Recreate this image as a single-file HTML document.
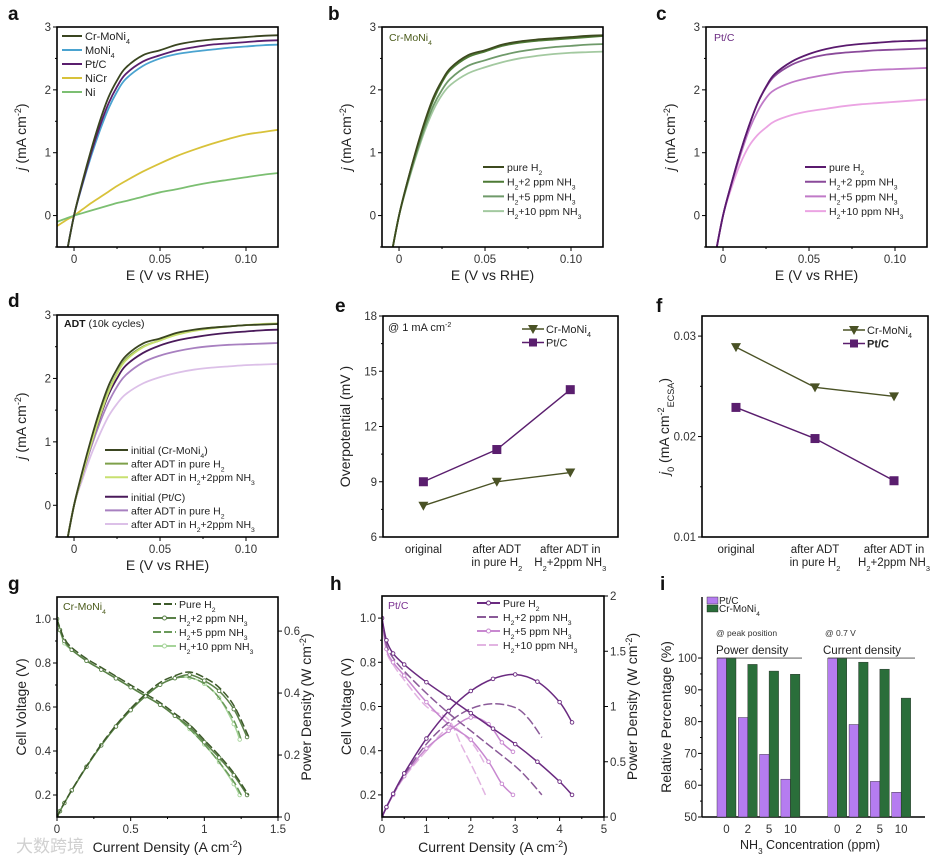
<!DOCTYPE html>
<html><head><meta charset="utf-8">
<style>
html,body{margin:0;padding:0;background:#fff;}
svg{display:block;font-family:"Liberation Sans","Noto Sans CJK SC",sans-serif;}
</style></head>
<body>
<svg id="chart" width="933" height="862" viewBox="0 0 933 862" xmlns="http://www.w3.org/2000/svg"></svg>
<script>
// ---------- data ----------
const E = [-0.01,-0.005,0,0.005,0.01,0.015,0.02,0.025,0.03,0.04,0.05,0.06,0.07,0.08,0.09,0.10,0.11,0.12];
// panel a
const aCrMoNi4 = [-1.4,-0.7,0,0.55,1.05,1.5,1.88,2.15,2.35,2.55,2.63,2.72,2.77,2.8,2.82,2.84,2.86,2.87];
const aMoNi4   = [-1.4,-0.7,0,0.5,0.95,1.35,1.7,1.97,2.17,2.38,2.5,2.57,2.61,2.64,2.67,2.69,2.71,2.72];
const aPtC     = [-1.4,-0.7,0,0.52,1.0,1.42,1.78,2.05,2.25,2.45,2.55,2.63,2.68,2.72,2.74,2.76,2.78,2.79];
const aNiCr    = [-0.17,-0.08,0,0.1,0.2,0.29,0.38,0.47,0.55,0.7,0.83,0.95,1.05,1.14,1.22,1.29,1.33,1.37];
const aNi      = [-0.1,-0.05,0,0.04,0.08,0.12,0.16,0.2,0.23,0.3,0.37,0.42,0.48,0.53,0.57,0.61,0.65,0.68];
// panel b
const bPure  = [-1.4,-0.7,0,0.55,1.05,1.5,1.88,2.15,2.35,2.55,2.63,2.72,2.77,2.8,2.82,2.84,2.86,2.87];
const b2ppm  = [-1.4,-0.7,0,0.55,1.03,1.47,1.84,2.12,2.32,2.52,2.61,2.7,2.75,2.78,2.8,2.82,2.84,2.86];
const b5ppm  = [-1.4,-0.7,0,0.52,0.98,1.4,1.75,2.0,2.18,2.38,2.47,2.55,2.61,2.65,2.68,2.7,2.72,2.73];
const b10ppm = [-1.4,-0.7,0,0.5,0.95,1.35,1.68,1.92,2.08,2.26,2.36,2.44,2.5,2.54,2.57,2.59,2.6,2.61];
// panel c
const cPure  = [-1.4,-0.7,0,0.52,1.0,1.42,1.78,2.05,2.25,2.45,2.57,2.65,2.7,2.73,2.75,2.77,2.78,2.79];
const c2ppm  = [-1.4,-0.7,0,0.52,1.0,1.42,1.78,2.04,2.22,2.4,2.5,2.56,2.59,2.61,2.63,2.64,2.65,2.66];
const c5ppm  = [-1.4,-0.7,0,0.5,0.95,1.35,1.65,1.87,2.0,2.12,2.19,2.24,2.28,2.3,2.32,2.33,2.34,2.35];
const c10ppm = [-1.4,-0.7,0,0.45,0.82,1.1,1.28,1.4,1.5,1.6,1.66,1.7,1.74,1.77,1.79,1.81,1.83,1.85];
// panel d
const dCrInit = [-1.4,-0.7,0,0.55,1.05,1.5,1.88,2.15,2.35,2.55,2.63,2.72,2.77,2.8,2.82,2.84,2.85,2.86];
const dCrPure = [-1.4,-0.7,0,0.5,0.98,1.42,1.8,2.08,2.3,2.5,2.6,2.7,2.76,2.8,2.82,2.84,2.85,2.86];
const dCrNH3  = [-1.4,-0.7,0,0.5,0.97,1.4,1.78,2.07,2.28,2.49,2.6,2.69,2.75,2.79,2.82,2.84,2.86,2.87];
const dPtInit = [-1.4,-0.7,0,0.5,0.97,1.38,1.74,2.0,2.2,2.4,2.52,2.6,2.65,2.69,2.72,2.74,2.76,2.77];
const dPtPure = [-1.4,-0.7,0,0.48,0.92,1.3,1.62,1.87,2.05,2.25,2.36,2.43,2.48,2.51,2.53,2.54,2.55,2.56];
const dPtNH3  = [-1.4,-0.7,0,0.42,0.8,1.12,1.4,1.6,1.75,1.92,2.02,2.09,2.14,2.17,2.19,2.21,2.22,2.23];
// panels e, f
const adtCategories = ["original","after ADT|in pure H_{2}","after ADT in|H_{2}+2ppm NH_{3}"];
const eCr = [7.7, 9.0, 9.5];
const ePt = [9.0, 10.75, 14.0];
const fCr = [0.0289, 0.0249, 0.0240];
const fPt = [0.0229, 0.0198, 0.0156];
// panel g
const gIpure = [0,0.02,0.05,0.1,0.2,0.3,0.4,0.5,0.6,0.7,0.8,0.9,1.0,1.1,1.2,1.3];
const gVpure = [1.0,0.96,0.91,0.87,0.82,0.78,0.74,0.70,0.66,0.62,0.57,0.52,0.45,0.38,0.30,0.2];
const gPpure = [0,0.019,0.046,0.087,0.164,0.234,0.296,0.35,0.396,0.434,0.456,0.468,0.45,0.418,0.36,0.26];
const gI2 = [0,0.02,0.05,0.1,0.2,0.3,0.4,0.5,0.6,0.7,0.8,0.9,1.0,1.1,1.2,1.29];
const gV2 = [1.0,0.95,0.9,0.86,0.81,0.77,0.73,0.69,0.65,0.61,0.56,0.51,0.44,0.37,0.29,0.2];
const gP2 = [0,0.019,0.045,0.086,0.162,0.231,0.292,0.345,0.39,0.427,0.448,0.459,0.44,0.407,0.348,0.258];
const gI5 = [0,0.02,0.05,0.1,0.2,0.3,0.4,0.5,0.6,0.7,0.8,0.9,1.0,1.1,1.2,1.25];
const gV5 = [1.0,0.95,0.9,0.86,0.81,0.77,0.73,0.69,0.65,0.61,0.56,0.5,0.43,0.35,0.26,0.2];
const gP5 = [0,0.019,0.045,0.086,0.162,0.231,0.292,0.345,0.39,0.427,0.448,0.45,0.43,0.385,0.312,0.25];
const gI10 = [0,0.02,0.05,0.1,0.2,0.3,0.4,0.5,0.6,0.7,0.8,0.9,1.0,1.1,1.2,1.24];
const gV10 = [1.0,0.95,0.89,0.86,0.81,0.77,0.73,0.69,0.65,0.61,0.56,0.5,0.43,0.35,0.25,0.2];
const gP10 = [0,0.019,0.045,0.086,0.162,0.231,0.292,0.345,0.39,0.427,0.448,0.45,0.43,0.385,0.3,0.25];
// panel h
const hIpure = [0,0.1,0.25,0.5,1,1.5,2,2.5,3,3.5,4,4.28];
const hVpure = [1.0,0.9,0.84,0.79,0.71,0.64,0.57,0.5,0.43,0.35,0.26,0.2];
const hPpure = [0,0.09,0.21,0.395,0.71,0.96,1.14,1.25,1.29,1.225,1.04,0.856];
const hI2 = [0,0.1,0.25,0.5,1,1.5,2,2.5,3,3.3,3.6];
const hV2 = [1.0,0.88,0.82,0.76,0.66,0.57,0.49,0.41,0.33,0.27,0.2];
const hP2 = [0,0.088,0.205,0.38,0.66,0.855,0.98,1.025,0.99,0.89,0.72];
const hI5 = [0,0.1,0.25,0.5,1,1.5,2,2.4,2.7,2.95];
const hV5 = [1.0,0.86,0.8,0.74,0.62,0.52,0.45,0.35,0.25,0.2];
const hP5 = [0,0.086,0.2,0.37,0.62,0.78,0.9,0.84,0.675,0.59];
const hI10 = [0,0.1,0.25,0.5,1,1.5,1.8,2.1,2.33];
const hV10 = [1.0,0.85,0.79,0.72,0.6,0.54,0.42,0.3,0.2];
const hP10 = [0,0.085,0.2,0.36,0.6,0.81,0.76,0.63,0.47];
// panel i
const iConc = ["0","2","5","10"];
const iPowerPt = [100,81.3,69.7,61.9];
const iPowerCr = [100,98.0,95.9,94.9];
const iCurrentPt = [100,79.1,61.2,57.8];
const iCurrentCr = [100,98.7,96.5,87.4];

// ---------- helpers ----------
const NS='http://www.w3.org/2000/svg';
const svg=document.getElementById('chart');
function mk(tag,parent,name){
  const e=document.createElementNS(NS,tag);
  
  
  parent.appendChild(e);return e;
}
function set(e,o){for(const k in o)e.setAttribute(k,o[k]);return e;}
function addSpan(t,str,kind){
  const ts=document.createElementNS(NS,'tspan');ts.textContent=str;
  if(kind==='_'||kind==='^'){ts.setAttribute('font-size','0.65em');ts.setAttribute('baseline-shift',kind==='_'?'sub':'super');}
  if(kind==='*'){ts.setAttribute('font-style','italic');}
  t.appendChild(ts);
}
function rich(t,s){
  const re=/([_^*])\{([^}]*)\}/g;let last=0,m;
  while((m=re.exec(s))){if(m.index>last)addSpan(t,s.slice(last,m.index),null);addSpan(t,m[2],m[1]);last=re.lastIndex;}
  if(last<s.length)addSpan(t,s.slice(last),null);
}
function txt(parent,name,x,y,s,o){
  o=o||{};
  const t=mk('text',parent,name);
  set(t,{x:x,y:y,'font-size':o.size||11,fill:o.fill||'#1a1a1a','text-anchor':o.anchor||'start'});
  if(o.weight)t.setAttribute('font-weight',o.weight);
  if(o.rot)t.setAttribute('transform','rotate(-90 '+x+' '+y+')');
  rich(t,s);return t;
}
function smooth(pts){
  if(pts.length<2)return '';
  let d='M'+pts[0][0].toFixed(2)+','+pts[0][1].toFixed(2);
  for(let i=0;i<pts.length-1;i++){
    const p0=pts[Math.max(0,i-1)],p1=pts[i],p2=pts[i+1],p3=pts[Math.min(pts.length-1,i+2)];
    const c1x=p1[0]+(p2[0]-p0[0])/6,c1y=p1[1]+(p2[1]-p0[1])/6;
    const c2x=p2[0]-(p3[0]-p1[0])/6,c2y=p2[1]-(p3[1]-p1[1])/6;
    d+=' C'+c1x.toFixed(2)+','+c1y.toFixed(2)+' '+c2x.toFixed(2)+','+c2y.toFixed(2)+' '+p2[0].toFixed(2)+','+p2[1].toFixed(2);
  }
  return d;
}
let clipN=0;
function panel(name,ax){
  const g=mk('g',svg,name);
  const sx=v=>ax.L+(v-ax.xd[0])/(ax.xd[1]-ax.xd[0])*ax.W;
  const sy=v=>ax.T+ax.H-(v-ax.yd[0])/(ax.yd[1]-ax.yd[0])*ax.H;
  const cid='clip'+(clipN++);
  const cp=mk('clipPath',g,name+'-clip');cp.setAttribute('id',cid);
  const cr=mk('rect',cp,name+'-clip-rect');set(cr,{x:ax.L,y:ax.T,width:ax.W,height:ax.H});
  const plot=mk('g',g,name+'-plot-area');plot.setAttribute('clip-path','url(#'+cid+')');
  const B=ax.T+ax.H;
  (ax.xt||[]).forEach((v,i)=>{
    const tk=mk('line',g,'x-tick');set(tk,{x1:sx(v),x2:sx(v),y1:B,y2:B+4,stroke:'#000','stroke-width':1});
    txt(g,'x-tick-label',sx(v),B+16,ax.xl[i],{anchor:'middle',size:11.5,fill:'#333'});
  });
  (ax.xm||[]).forEach(v=>{const tk=mk('line',g,'x-minor-tick');set(tk,{x1:sx(v),x2:sx(v),y1:B,y2:B+2,stroke:'#000','stroke-width':1});});
  (ax.yt||[]).forEach((v,i)=>{
    const tk=mk('line',g,'y-tick');set(tk,{x1:ax.L-4,x2:ax.L,y1:sy(v),y2:sy(v),stroke:'#000','stroke-width':1});
    txt(g,'y-tick-label',ax.L-6,sy(v)+4,ax.yl[i],{anchor:'end',size:11.5,fill:'#333'});
  });
  (ax.ym||[]).forEach(v=>{const tk=mk('line',g,'y-minor-tick');set(tk,{x1:ax.L-2,x2:ax.L,y1:sy(v),y2:sy(v),stroke:'#000','stroke-width':1});});
  if(ax.box!==false){
    const r=mk('rect',g,name+'-frame');set(r,{x:ax.L,y:ax.T,width:ax.W,height:ax.H,fill:'none',stroke:'#000','stroke-width':1.6});
  }
  return {g,plot,sx,sy};
}
function curve(P,name,xs,ys,color,o){
  o=o||{};
  const pts=xs.map((x,i)=>[P.sx(x),(o.sy||P.sy)(ys[i])]);
  const p=mk('path',P.plot,name);
  set(p,{d:smooth(pts),fill:'none',stroke:color,'stroke-width':o.w||1.8});
  if(o.dash)p.setAttribute('stroke-dasharray',o.dash);
  if(o.marker){pts.forEach(q=>{const c=mk('circle',P.plot,name+'-marker');set(c,{cx:q[0],cy:q[1],r:1.8,fill:'#fff',stroke:color,'stroke-width':0.9});});}
}
function legLine(g,name,x1,x2,y,color,label,o){
  o=o||{};
  const l=mk('line',g,name+'-swatch');set(l,{x1:x1,x2:x2,y1:y,y2:y,stroke:color,'stroke-width':2});
  if(o.dash)l.setAttribute('stroke-dasharray',o.dash);
  if(o.marker){const c=mk('circle',g,name+'-swatch-marker');set(c,{cx:(x1+x2)/2,cy:y,r:2,fill:'#fff',stroke:color});}
  txt(g,name,x2+3,y+4,label,{size:o.size||10.5,fill:'#222'});
}
function letter(s,x,y){txt(svg,'panel-label-'+s,x,y,s,{size:19,weight:'bold',fill:'#111'});}

// ---------- LSV panels a-d ----------
const lsvAx=(L,T,W,H)=>({L:L,T:T,W:W,H:H,xd:[-0.0099,0.1186],yd:[-0.5,3],xt:[0,0.05,0.10],xl:['0','0.05','0.10'],xm:[0.025,0.075,0.1],yt:[0,1,2,3],yl:['0','1','2','3'],ym:[-0.5,0.5,1.5,2.5]});
function lsvTitles(P,ax){
  txt(P.g,'y-axis-title',ax.L-31,ax.T+ax.H/2,'*{j} (mA cm^{-2})',{size:14,anchor:'middle',rot:true,fill:'#222'});
  txt(P.g,'x-axis-title',ax.L+ax.W/2,ax.T+ax.H+33,'E (V vs RHE)',{size:14,anchor:'middle',fill:'#222'});
}
// a
let ax=lsvAx(57,27,221,220);let P=panel('panel-a',ax);lsvTitles(P,ax);
curve(P,'line-nicr',E,aNiCr,'#d8c23a');
curve(P,'line-ni',E,aNi,'#7cbf72');
curve(P,'line-moni4',E,aMoNi4,'#4aa3d0');
curve(P,'line-ptc',E,aPtC,'#5a1e6e');
curve(P,'line-cr-moni4',E,aCrMoNi4,'#3a4520');
[['Cr-MoNi_{4}','#3a4520'],['MoNi_{4}','#4aa3d0'],['Pt/C','#5a1e6e'],['NiCr','#d8c23a'],['Ni','#7cbf72']].forEach((r,i)=>legLine(P.g,'legend-entry',62,82,36+i*14,r[1],r[0],{size:11}));
letter('a',8,20);
// b
ax=lsvAx(382,27,221,220);P=panel('panel-b',ax);lsvTitles(P,ax);
const bCols=['#3d4a1f','#4d7a35','#6f9a6a','#a3c9a0'];
curve(P,'line-10ppm',E,b10ppm,bCols[3]);curve(P,'line-5ppm',E,b5ppm,bCols[2]);curve(P,'line-2ppm',E,b2ppm,bCols[1]);curve(P,'line-pure',E,bPure,bCols[0]);
txt(P.g,'sample-label',389,41,'Cr-MoNi_{4}',{size:10.5,fill:'#4a5a1a'});
['pure H_{2}','H_{2}+2 ppm NH_{3}','H_{2}+5 ppm NH_{3}','H_{2}+10 ppm NH_{3}'].forEach((s,i)=>legLine(P.g,'legend-entry',483,504,167+i*14.7,bCols[i],s));
letter('b',328,20);
// c
ax=lsvAx(706,27,221,220);P=panel('panel-c',ax);lsvTitles(P,ax);
const cCols=['#5a1a6e','#8a4a9a','#c07ac8','#eba4e3'];
curve(P,'line-10ppm',E,c10ppm,cCols[3]);curve(P,'line-5ppm',E,c5ppm,cCols[2]);curve(P,'line-2ppm',E,c2ppm,cCols[1]);curve(P,'line-pure',E,cPure,cCols[0]);
txt(P.g,'sample-label',714,41,'Pt/C',{size:10.5,fill:'#6a2a80'});
['pure H_{2}','H_{2}+2 ppm NH_{3}','H_{2}+5 ppm NH_{3}','H_{2}+10 ppm NH_{3}'].forEach((s,i)=>legLine(P.g,'legend-entry',805,826,167+i*14.7,cCols[i],s));
letter('c',656,20);
// d
ax=lsvAx(57,315,221,222);P=panel('panel-d',ax);lsvTitles(P,ax);
const dCols=['#3a4520','#7ea04a','#c8e070','#4a1a5a','#a880c0','#dcc0e8'];
curve(P,'line-pt-nh3',E,dPtNH3,dCols[5]);curve(P,'line-pt-pure',E,dPtPure,dCols[4]);curve(P,'line-pt-initial',E,dPtInit,dCols[3]);
curve(P,'line-cr-pure',E,dCrPure,dCols[1]);curve(P,'line-cr-nh3',E,dCrNH3,dCols[2]);curve(P,'line-cr-initial',E,dCrInit,dCols[0]);
const adtT=txt(P.g,'adt-label',64,327,'',{size:10.5});adtT.innerHTML='<tspan font-weight="bold">ADT</tspan> (10k cycles)';
['initial (Cr-MoNi_{4})','after ADT in pure H_{2}','after ADT in H_{2}+2ppm NH_{3}','initial (Pt/C)','after ADT in pure H_{2}','after ADT in H_{2}+2ppm NH_{3}'].forEach((s,i)=>legLine(P.g,'legend-entry',105,128,450+i*13.6+(i>2?6:0),dCols[i],s,{size:10.5}));
letter('d',8,307);

// ---------- e, f ----------
function catPanel(name,ax,cr,pt,ytitle,legY,legX){
  const P=panel(name,ax);
  adtCategories.forEach((c,i)=>{
    const parts=c.split('|');
    parts.forEach((s,j)=>txt(P.g,'x-category-label',P.sx(i),ax.T+ax.H+16+j*13,s,{anchor:'middle',size:11.5,fill:'#222'}));
  });
  txt(P.g,'y-axis-title',ax.L-33,ax.T+ax.H/2,ytitle,{size:14,anchor:'middle',rot:true,fill:'#222'});
  [[pt,'#5a1e6e','pt','square'],[cr,'#4a5225','cr','tri']].forEach(s=>{
    const pts=s[0].map((v,i)=>[P.sx(i),P.sy(v)]);
    const pl=mk('polyline',P.plot,'line-'+s[2]);set(pl,{points:pts.map(q=>q.join(',')).join(' '),fill:'none',stroke:s[1],'stroke-width':1.4});
    pts.forEach(q=>{
      if(s[3]==='square'){const r=mk('rect',P.plot,'marker-'+s[2]);set(r,{x:q[0]-4.5,y:q[1]-4.5,width:9,height:9,fill:s[1]});}
      else{const t=mk('polygon',P.plot,'marker-'+s[2]);set(t,{points:(q[0]-5)+','+(q[1]-4)+' '+(q[0]+5)+','+(q[1]-4)+' '+q[0]+','+(q[1]+5),fill:s[1]});}
    });
  });
  const lx=legX;
  [['Cr-MoNi_{4}','#4a5225','tri'],['Pt/C','#5a1e6e','sq']].forEach((r,i)=>{
    const y=legY+i*13.5;
    const l=mk('line',P.g,'legend-swatch');set(l,{x1:lx,x2:lx+22,y1:y,y2:y,stroke:r[1],'stroke-width':1.4});
    if(r[2]==='sq'){const q=mk('rect',P.g,'legend-marker');set(q,{x:lx+7,y:y-4,width:8,height:8,fill:r[1]});}
    else{const q=mk('polygon',P.g,'legend-marker');set(q,{points:(lx+6)+','+(y-4)+' '+(lx+16)+','+(y-4)+' '+(lx+11)+','+(y+5),fill:r[1]});}
    txt(P.g,'legend-entry',lx+24,y+4,r[0],{size:11,fill:'#222',weight:i===1&&name==='panel-f'?'bold':null});
  });
  return P;
}
P=catPanel('panel-e',{L:383,T:316,W:235,H:221,xd:[-0.55,2.65],yd:[6,18],yt:[6,9,12,15,18],yl:['6','9','12','15','18'],ym:[7.5,10.5,13.5,16.5]},eCr,ePt,'Overpotential (mV )',329,522);
txt(P.g,'condition-label',388,331,'@ 1 mA cm^{-2}',{size:11,fill:'#222'});
letter('e',335,312);
P=catPanel('panel-f',{L:702,T:316,W:226,H:221,xd:[-0.43,2.43],yd:[0.01,0.032],yt:[0.01,0.02,0.03],yl:['0.01','0.02','0.03'],ym:[0.015,0.025]},fCr,fPt,'*{j}_{0} (mA cm^{-2}_{ECSA})',330,843);
letter('f',656,312);

// ---------- g, h ----------
function fcPanel(name,ax,rd,rt,rl,series,lab,labCol,legX){
  const P=panel(name,ax);
  const sy2=v=>ax.T+ax.H-(v-rd[0])/(rd[1]-rd[0])*ax.H;
  rt.forEach((v,i)=>{
    const tk=mk('line',P.g,'right-y-tick');set(tk,{x1:ax.L+ax.W,x2:ax.L+ax.W+4,y1:sy2(v),y2:sy2(v),stroke:'#000'});
    txt(P.g,'right-y-tick-label',ax.L+ax.W+6,sy2(v)+4,rl[i],{size:11.5,fill:'#333'});
  });
  txt(P.g,'y-axis-title',ax.L-31,ax.T+ax.H/2,'Cell Voltage (V)',{size:14,anchor:'middle',rot:true,fill:'#222'});
  txt(P.g,'right-y-axis-title',ax.L+ax.W+33,ax.T+ax.H/2,'Power Density (W cm^{-2})',{size:14,anchor:'middle',rot:true,fill:'#222'});
  txt(P.g,'x-axis-title',ax.L+ax.W/2,ax.T+ax.H+35,'Current Density (A cm^{-2})',{size:14,anchor:'middle',fill:'#222'});
  series.slice().reverse().forEach(s=>{
    curve(P,'voltage-'+s.n,s.I,s.V,s.c,{dash:s.dash,marker:s.m,w:1.5});
    curve(P,'power-'+s.n,s.I,s.P,s.c,{dash:s.dash,marker:s.m,w:1.5,sy:sy2});
  });
  txt(P.g,'sample-label',ax.L+6,ax.T+13,lab,{size:10.5,fill:labCol});
  series.forEach((s,i)=>legLine(P.g,'legend-entry',legX,legX+23,ax.T+7+i*14,s.c,s.lab,{dash:s.dash,marker:s.m,size:10.5}));
  return P;
}
const fcAx=(L,T,W,H,xd,xt,xm)=>({L:L,T:T,W:W,H:H,xd:xd,yd:[0.1,1.1],xt:xt,xl:xt.map(String),xm:xm,yt:[0.2,0.4,0.6,0.8,1.0],yl:['0.2','0.4','0.6','0.8','1.0'],ym:[0.3,0.5,0.7,0.9]});
const legLabs=['Pure H_{2}','H_{2}+2 ppm NH_{3}','H_{2}+5 ppm NH_{3}','H_{2}+10 ppm NH_{3}'];
fcPanel('panel-g',fcAx(57,597,221,220,[0,1.5],[0,0.5,1,1.5],[0.25,0.75,1.25]),[0,0.71],[0,0.2,0.4,0.6],['0','0.2','0.4','0.6'],[
  {n:'pure',I:gIpure,V:gVpure,P:gPpure,c:'#3d5a2a',dash:'8,3',lab:legLabs[0]},
  {n:'2ppm',I:gI2,V:gV2,P:gP2,c:'#5a8048',m:true,lab:legLabs[1]},
  {n:'5ppm',I:gI5,V:gV5,P:gP5,c:'#6a9a5a',dash:'8,3',lab:legLabs[2]},
  {n:'10ppm',I:gI10,V:gV10,P:gP10,c:'#a6d49a',m:true,lab:legLabs[3]}],'Cr-MoNi_{4}','#4a5a1a',153);
letter('g',8,590);
fcPanel('panel-h',fcAx(382,596,222,221,[0,5],[0,1,2,3,4,5],[0.5,1.5,2.5,3.5,4.5]),[0,2],[0,0.5,1,1.5,2],['0','0.5','1','1.5','2'],[
  {n:'pure',I:hIpure,V:hVpure,P:hPpure,c:'#6a2a80',m:true,lab:legLabs[0]},
  {n:'2ppm',I:hI2,V:hV2,P:hP2,c:'#8a5a98',dash:'9,3',lab:legLabs[1]},
  {n:'5ppm',I:hI5,V:hV5,P:hP5,c:'#c888d0',m:true,lab:legLabs[2]},
  {n:'10ppm',I:hI10,V:hV10,P:hP10,c:'#e2b4e2',dash:'9,3',lab:legLabs[3]}],'Pt/C','#7a3090',477);
letter('h',330,590);

// ---------- i ----------
(function(){
  const g=mk('g',svg,'panel-i');
  const L=702,B=817,T=597;
  const yd=[50,119.2];
  const sy=v=>B-(v-yd[0])/(yd[1]-yd[0])*(B-T);
  const ax1=mk('line',g,'y-axis-line');set(ax1,{x1:L,x2:L,y1:T,y2:B,stroke:'#000','stroke-width':1.4});
  const ax2=mk('line',g,'x-axis-line');set(ax2,{x1:L,x2:925,y1:B,y2:B,stroke:'#000','stroke-width':1.4});
  [50,60,70,80,90,100].forEach(v=>{
    const t=mk('line',g,'y-tick');set(t,{x1:L-4,x2:L,y1:sy(v),y2:sy(v),stroke:'#000'});
    txt(g,'y-tick-label',L-5,sy(v)+4,String(v),{anchor:'end',size:11.5,fill:'#333'});
  });
  [55,65,75,85,95].forEach(v=>{const t=mk('line',g,'y-minor-tick');set(t,{x1:L-2,x2:L,y1:sy(v),y2:sy(v),stroke:'#000'});});
  const groups=[[iPowerPt,iPowerCr,0,'power-density'],[iCurrentPt,iCurrentCr,5.2,'current-density']];
  groups.forEach(gr=>{
    iConc.forEach((c,k)=>{
      const x0=717+(k+gr[2])*21.3;
      const b1=mk('rect',g,'bar-'+gr[3]+'-ptc-'+c);set(b1,{x:x0,y:sy(gr[0][k]),width:9.5,height:B-sy(gr[0][k]),fill:'#b57cf0',stroke:'#222','stroke-width':0.4});
      const b2=mk('rect',g,'bar-'+gr[3]+'-cr-moni4-'+c);set(b2,{x:x0+9.5,y:sy(gr[1][k]),width:9.5,height:B-sy(gr[1][k]),fill:'#2a6e3a',stroke:'#222','stroke-width':0.4});
      txt(g,'x-tick-label',x0+9.5,B+16,c,{anchor:'middle',size:11.5,fill:'#333'});
    });
  });
  const l1=mk('line',g,'power-density-bracket');set(l1,{x1:717,x2:802,y1:sy(100),y2:sy(100),stroke:'#444','stroke-width':0.8});
  const l2=mk('line',g,'current-density-bracket');set(l2,{x1:828,x2:915,y1:sy(100),y2:sy(100),stroke:'#444','stroke-width':0.8});
  txt(g,'power-condition',716,636,'@ peak position',{size:8.5,fill:'#333'});
  txt(g,'power-group-title',716,654,'Power density',{size:11.5,fill:'#222'});
  txt(g,'current-condition',825,636,'@ 0.7 V',{size:8.5,fill:'#333'});
  txt(g,'current-group-title',823,654,'Current density',{size:11.5,fill:'#222'});
  const s1=mk('rect',g,'legend-swatch-ptc');set(s1,{x:707,y:597,width:11,height:7,fill:'#b57cf0',stroke:'#222','stroke-width':0.4});
  txt(g,'legend-entry',719,604,'Pt/C',{size:10,fill:'#222'});
  const s2=mk('rect',g,'legend-swatch-cr-moni4');set(s2,{x:707,y:605,width:11,height:7,fill:'#2a6e3a',stroke:'#222','stroke-width':0.4});
  txt(g,'legend-entry',719,612,'Cr-MoNi_{4}',{size:10,fill:'#222'});
  txt(g,'y-axis-title',671,717,'Relative Percentage (%)',{size:14,anchor:'middle',rot:true,fill:'#222'});
  txt(g,'x-axis-title',810,849,'NH_{3} Concentration (ppm)',{size:12.5,anchor:'middle',fill:'#222'});
  letter('i',660,590);
})();
// watermark
txt(svg,'watermark',16,852,'大数跨境',{size:17,fill:'#d0d0d0'});
</script>
</body></html>
